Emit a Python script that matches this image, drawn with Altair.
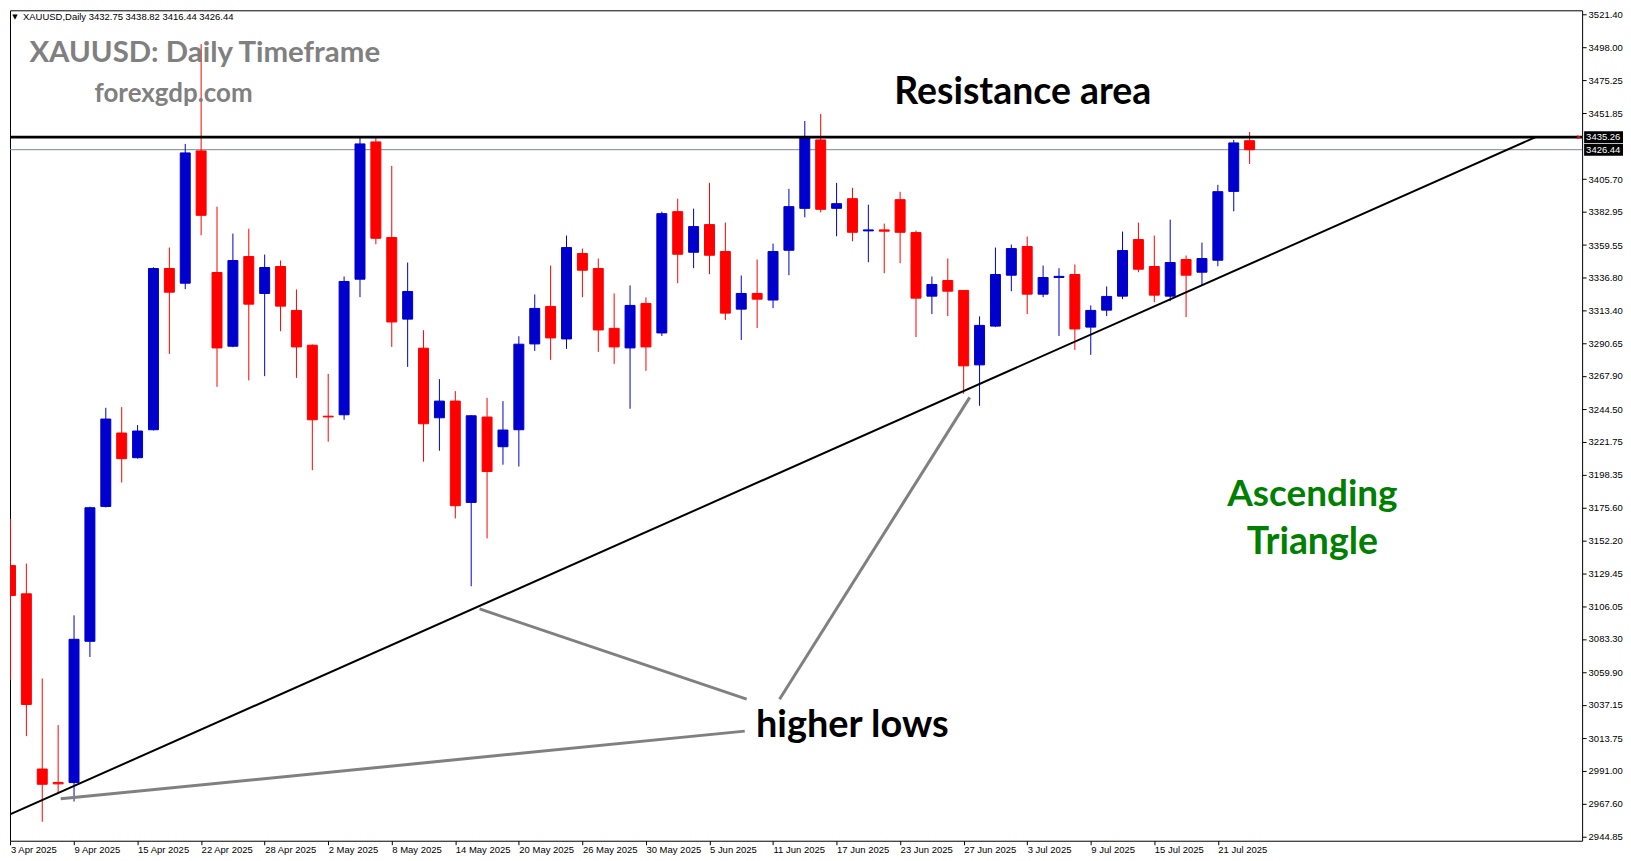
import altair as alt
import pandas as pd

# ---------------- data ----------------
DATES = [
    "3 Apr 2025", "4 Apr 2025", "7 Apr 2025", "8 Apr 2025", "9 Apr 2025", "10 Apr 2025", "11 Apr 2025",
    "14 Apr 2025", "15 Apr 2025", "16 Apr 2025", "17 Apr 2025", "21 Apr 2025", "22 Apr 2025", "23 Apr 2025",
    "24 Apr 2025", "25 Apr 2025", "28 Apr 2025", "29 Apr 2025", "30 Apr 2025",
    "1 May 2025", "2 May 2025", "5 May 2025", "6 May 2025", "7 May 2025", "8 May 2025", "9 May 2025",
    "12 May 2025", "13 May 2025", "14 May 2025", "15 May 2025", "16 May 2025", "19 May 2025", "20 May 2025",
    "21 May 2025", "22 May 2025", "23 May 2025", "26 May 2025", "27 May 2025", "28 May 2025", "29 May 2025",
    "30 May 2025",
    "2 Jun 2025", "3 Jun 2025", "4 Jun 2025", "5 Jun 2025", "6 Jun 2025", "9 Jun 2025", "10 Jun 2025",
    "11 Jun 2025", "12 Jun 2025", "13 Jun 2025", "16 Jun 2025", "17 Jun 2025", "18 Jun 2025", "19 Jun 2025",
    "20 Jun 2025", "23 Jun 2025", "24 Jun 2025", "25 Jun 2025", "26 Jun 2025", "27 Jun 2025", "30 Jun 2025",
    "1 Jul 2025", "2 Jul 2025", "3 Jul 2025", "4 Jul 2025", "7 Jul 2025", "8 Jul 2025", "9 Jul 2025",
    "10 Jul 2025", "11 Jul 2025", "14 Jul 2025", "15 Jul 2025", "16 Jul 2025", "17 Jul 2025", "18 Jul 2025",
    "21 Jul 2025", "22 Jul 2025", "23 Jul 2025",
]

OPEN = [3134.7, 3114.9, 2992.0, 2982.6, 2982.5, 3081.6, 3176.2, 3227.7, 3210.4, 3230.0,
        3343.1, 3332.8, 3425.6, 3340.3, 3288.6, 3351.5, 3325.6, 3344.5, 3313.7, 3289.3,
        3239.5, 3240.5, 3335.6, 3431.9, 3364.8, 3307.6, 3287.2, 3238.4, 3250.1, 3179.0,
        3238.9, 3218.1, 3230.0, 3290.2, 3316.5, 3293.7, 3353.6, 3343.1, 3301.1, 3287.4,
        3318.6, 3297.9, 3383.0, 3354.5, 3373.9, 3355.0, 3314.6, 3325.6, 3321.0, 3355.9,
        3385.3, 3433.3, 3385.3, 3392.1, 3369.5, 3370.2, 3391.4, 3368.3, 3323.7, 3334.7,
        3327.7, 3275.5, 3302.7, 3338.4, 3358.5, 3325.1, 3336.8, 3338.9, 3302.0, 3313.9,
        3323.7, 3363.4, 3344.5, 3323.7, 3349.4, 3340.5, 3348.9, 3397.2, 3432.75]
HIGH = [3167.4, 3136.1, 3055.5, 3022.8, 3099.8, 3176.0, 3245.4, 3245.9, 3233.3, 3344.0,
        3357.8, 3430.5, 3500.5, 3386.5, 3367.6, 3371.0, 3352.9, 3348.7, 3328.4, 3289.8,
        3269.2, 3337.5, 3434.7, 3434.7, 3415.1, 3347.3, 3299.8, 3265.5, 3257.1, 3240.3,
        3252.4, 3250.1, 3295.6, 3324.9, 3345.2, 3366.2, 3357.1, 3350.1, 3325.6, 3331.2,
        3322.8, 3383.0, 3392.1, 3385.1, 3403.2, 3375.3, 3338.2, 3349.4, 3360.6, 3399.0,
        3446.6, 3451.5, 3403.2, 3399.7, 3387.9, 3374.6, 3396.9, 3369.7, 3337.5, 3350.1,
        3328.0, 3309.5, 3357.8, 3359.9, 3365.5, 3345.2, 3343.3, 3345.9, 3317.2, 3330.5,
        3369.0, 3375.3, 3366.2, 3377.4, 3352.2, 3361.3, 3401.8, 3433.3, 3438.82]
LOW = [3054.3, 3015.1, 2955.0, 2975.0, 2969.2, 3070.6, 3175.5, 3193.0, 3209.7, 3229.5,
       3283.2, 3328.6, 3366.4, 3260.1, 3287.9, 3264.6, 3267.6, 3299.1, 3266.4, 3201.6,
       3221.6, 3237.0, 3323.0, 3360.1, 3288.1, 3274.1, 3207.6, 3215.3, 3167.8, 3120.2,
       3153.8, 3205.5, 3204.2, 3285.3, 3279.0, 3286.7, 3323.0, 3284.6, 3276.2, 3244.7,
       3271.3, 3295.8, 3332.8, 3343.3, 3339.1, 3307.0, 3293.0, 3301.4, 3315.3, 3338.4,
       3379.0, 3382.5, 3365.7, 3362.2, 3347.5, 3339.8, 3346.8, 3295.0, 3311.1, 3309.7,
       3255.2, 3246.8, 3302.0, 3327.2, 3311.1, 3323.0, 3295.8, 3286.0, 3282.5, 3309.7,
       3321.6, 3340.5, 3319.5, 3320.2, 3309.0, 3331.4, 3344.7, 3383.2, 3416.44]
CLOSE = [3113.7, 3037.3, 2981.3, 2981.6, 3083.0, 3175.3, 3237.5, 3209.7, 3229.1, 3343.1,
         3326.5, 3424.2, 3380.4, 3287.4, 3348.7, 3318.1, 3343.8, 3316.7, 3288.1, 3237.0,
         3239.0, 3334.0, 3430.5, 3364.3, 3305.6, 3327.0, 3234.2, 3250.1, 3176.7, 3239.8,
         3200.7, 3229.8, 3290.0, 3315.1, 3294.4, 3357.8, 3341.9, 3300.0, 3288.1, 3317.2,
         3288.1, 3381.6, 3353.1, 3372.5, 3352.4, 3311.8, 3325.6, 3321.6, 3355.0, 3386.5,
         3434.7, 3384.6, 3388.6, 3368.5, 3370.2, 3369.3, 3368.5, 3322.3, 3331.9, 3327.2,
         3274.8, 3303.2, 3338.9, 3357.1, 3325.1, 3336.8, 3337.6, 3300.7, 3313.7, 3323.5,
         3355.7, 3342.6, 3324.4, 3347.3, 3338.4, 3350.1, 3397.0, 3431.2, 3426.44]

Y_TICKS = [3521.40, 3498.00, 3475.25, 3451.85, 3405.70, 3382.95, 3359.55, 3336.80,
           3313.40, 3290.65, 3267.90, 3244.50, 3221.75, 3198.35, 3175.60, 3152.20,
           3129.45, 3106.05, 3083.30, 3059.90, 3037.15, 3013.75, 2991.00, 2967.60, 2944.85]
X_TICK_IDX = list(range(0, 77, 4))

RESISTANCE = 3435.26
BID = 3426.44
TREND_START = (-0.031, 2960.2)
TREND_END = (96.0, 3435.26)

# pointer lines for "higher lows": (idx, price) -> (idx, price)
POINTERS = [
    (29.53, 3104.3, 46.34, 3041.0),
    (60.38, 3252.7, 48.41, 3041.0),
    (3.16, 2971.1, 46.22, 3018.6),
]

HEADER = "XAUUSD,Daily  3432.75 3438.82 3416.44 3426.44"

# ---------------- styling ----------------
BLUE = "#0000CD"
RED = "#FF0000"
W, H = 1577, 833
X_DOMAIN = [-0.031, 98.93]
Y_DOMAIN = [2941.71, 3524.22]
AXIS_FONT = "Liberation Sans"

xs = alt.Scale(domain=X_DOMAIN, nice=False, zero=False)
ys = alt.Scale(domain=Y_DOMAIN, nice=False, zero=False)

label_js = "[" + ",".join("'" + DATES[i] + "'" for i in X_TICK_IDX) + "]"
x_axis = alt.Axis(values=X_TICK_IDX, labelExpr=label_js + "[round(datum.value/4)]", title=None,
                  orient="bottom", grid=False, domain=False, tickSize=4, tickColor="black",
                  labelAlign="left", labelPadding=0, labelFlush=False, labelOverlap=False,
                  labelBound=False, labelColor="black", labelFont=AXIS_FONT, labelFontSize=9.5)
y_axis = alt.Axis(values=Y_TICKS, format=".2f", title=None, orient="right", grid=False,
                  domain=False, tickSize=4, tickColor="black", labelPadding=2,
                  labelColor="black", labelFont=AXIS_FONT, labelFontSize=9.5,
                  labelOverlap=False, labelFlush=False, labelBound=False)


def X(field):
    return alt.X(field, type="quantitative", scale=xs, axis=x_axis)


def Y(field):
    return alt.Y(field, type="quantitative", scale=ys, axis=y_axis)


df = pd.DataFrame({"idx": list(range(len(DATES))), "date": DATES, "open": OPEN,
                   "high": HIGH, "low": LOW, "close": CLOSE})
df["dir"] = ["up" if c >= o else "down" for o, c in zip(OPEN, CLOSE)]

col = alt.Color("dir:N", scale=alt.Scale(domain=["up", "down"], range=[BLUE, RED]), legend=None)
strk = alt.Stroke("dir:N", scale=alt.Scale(domain=["up", "down"], range=[BLUE, RED]), legend=None)

base = alt.Chart(df)
wicks = base.mark_rule(strokeWidth=1, clip=True).encode(x=X("idx"), y=Y("low"), y2="high", color=col)
bodies = base.transform_calculate(
    xa="datum.idx - 0.3137", xb="datum.idx + 0.3137"
).mark_bar(strokeWidth=1, clip=True).encode(
    x=X("xa"), x2="xb", y=Y("open"), y2="close", color=col, stroke=strk
)

bid_line = alt.Chart(pd.DataFrame({"p": [BID]})).mark_rule(color="#778899", strokeWidth=1).encode(y=Y("p"))
res_line = alt.Chart(pd.DataFrame({"p": [RESISTANCE]})).mark_rule(color="black", strokeWidth=3).encode(y=Y("p"))

trend = alt.Chart(pd.DataFrame({"x1": [TREND_START[0]], "y1": [TREND_START[1]],
                                "x2": [TREND_END[0]], "y2": [TREND_END[1]]})).mark_rule(
    color="black", strokeWidth=2, clip=True).encode(x=X("x1"), y=Y("y1"), x2="x2", y2="y2")

ptr_df = pd.DataFrame(POINTERS, columns=["x1", "y1", "x2", "y2"])
pointers = alt.Chart(ptr_df).mark_rule(color="#808080", strokeWidth=3).encode(
    x=X("x1"), y=Y("y1"), x2="x2", y2="y2")


def label(text, idx, price, size, color, align="center"):
    d = pd.DataFrame({"idx": [idx], "p": [price], "t": [text]})
    return alt.Chart(d).mark_text(font="Lato", fontWeight="bold", fontSize=size, color=color,
                                  align=align, baseline="alphabetic").encode(
        x=X("idx"), y=Y("p"), text="t:N")


texts = [
    label("XAUUSD: Daily Timeframe", 1.19, 3487.8, 29.5, "#808080", "left"),
    label("forexgdp.com", 5.29, 3459.9, 26, "#808080", "left"),
    label("Resistance area", 63.72, 3458.6, 37.5, "black"),
    label("Ascending", 81.95, 3176.7, 37, "#008000"),
    label("Triangle", 81.95, 3143.1, 37.5, "#008000"),
    label("higher lows", 52.99, 3014.2, 38, "black"),
]

hdr_df = pd.DataFrame({"t": [HEADER], "m": ["\u25BC"]})
header = alt.Chart(hdr_df).mark_text(font=AXIS_FONT, fontSize=9.5, color="black", align="left",
                                     baseline="middle").encode(x=alt.value(13), y=alt.value(7), text="t:N")
header_tri = alt.Chart(hdr_df).mark_text(font="DejaVu Sans", fontSize=7, color="black", align="center",
                                         baseline="middle").encode(x=alt.value(5), y=alt.value(7), text="m:N")

box_df = pd.DataFrame({"p": [RESISTANCE, BID], "t": ["3435.26", "3426.44"]})
boxes = alt.Chart(box_df).transform_calculate(lo="datum.p - 4.2", hi="datum.p + 4.2").mark_rect(
    color="black").encode(x=alt.value(W + 2), x2=alt.value(W + 41), y=Y("lo"), y2="hi")
box_txt = alt.Chart(box_df).mark_text(font=AXIS_FONT, fontSize=9.5, color="white", align="left",
                                      baseline="middle").encode(x=alt.value(W + 4), y=Y("p"), text="t:N")
arrow = alt.Chart(pd.DataFrame({"p": [RESISTANCE]})).mark_point(
    shape="triangle-right", filled=True, size=18, color="red", opacity=1).encode(
    x=alt.value(W - 3), y=Y("p"))

chart = alt.layer(
    bid_line, wicks, bodies, res_line, trend, pointers, *texts, header, header_tri, boxes, box_txt, arrow
).properties(width=W, height=H, padding=0, background="white").configure_view(
    stroke="black", strokeWidth=1
)

chart.save("out.html", embed_options={"renderer": "svg", "actions": False})
